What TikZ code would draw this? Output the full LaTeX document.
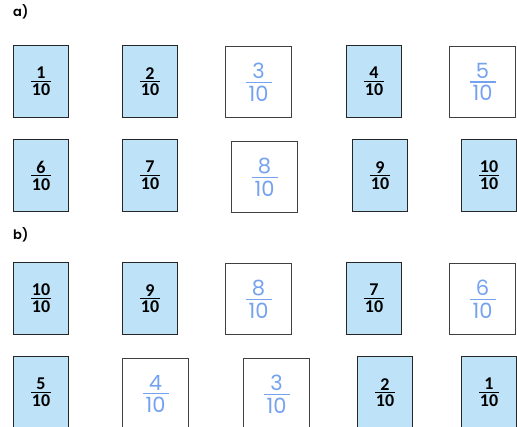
\documentclass[tikz,border=0pt]{standalone}
\usepackage{fontspec}
\setmainfont{Carlito}
\newfontfamily\handfont{Poppins}
\newfontfamily\panelfont{Poppins SemiBold}
\definecolor{cardblue}{HTML}{BEE3F8}
\definecolor{inkblue}{HTML}{74A2F0}
% stacked fraction: numerator, denominator, rule thickness, gap, overhang
\newcommand{\stackfrac}[5]{\vbox{\halign{\hfil\kern#5##\kern#5\hfil\cr
	#1\cr\noalign{\kern#4\hrule height #3\kern#4}#2\cr}}}
\newcommand{\printedfrac}[2]{\stackfrac{#1}{#2}{0.9pt}{2pt}{0.5pt}}
\newcommand{\handfrac}[2]{\stackfrac{#1}{#2}{1.2pt}{3pt}{3pt}}

\begin{document}
\begin{tikzpicture}[
	x=1pt, y=-1pt,
	printed/.style={rectangle, draw=black!85, line width=1.1pt, fill=cardblue,
		minimum width=55pt, minimum height=72pt, inner sep=0pt, anchor=north west,
		font=\fontsize{18}{20}\selectfont\bfseries},
	hand/.style={rectangle, draw=black!75, line width=1.1pt, fill=white,
		minimum width=66pt, minimum height=71pt, inner sep=0pt, anchor=north west,
		font=\fontsize{21}{24}\handfont, text=inkblue},
	panel/.style={anchor=west, inner sep=0pt, font=\fontsize{13}{15}\panelfont},
]
	\clip (0,0) rectangle (517,427);

	% Panel labels
	\node[panel] (pa) at (13,12) {a)};
	\node[panel] (pb) at (13,235) {b)};

	% a) counting up
	\foreach \x/\y/\k/\n [count=\i] in {13/45/printed/1, 122/45/printed/2, 225/46/hand/3,
			346/45/printed/4, 449/46/hand/5, 13/139/printed/6, 122/139/printed/7,
			231/141/hand/8, 352/139/printed/9, 461/139/printed/10} {
		\node[\k] (a\i) at (\x,\y) {\csname\k frac\endcsname{\n}{10}};
	}

	% b) counting down
	\foreach \x/\y/\k/\n [count=\i] in {13/262/printed/10, 122/262/printed/9, 225/263/hand/8,
			346/262/printed/7, 449/263/hand/6, 13/356/printed/5, 122/358/hand/4,
			243/358/hand/3, 357/356/printed/2, 461/356/printed/1} {
		\node[\k] (b\i) at (\x,\y) {\csname\k frac\endcsname{\n}{10}};
	}
\end{tikzpicture}
\end{document}
